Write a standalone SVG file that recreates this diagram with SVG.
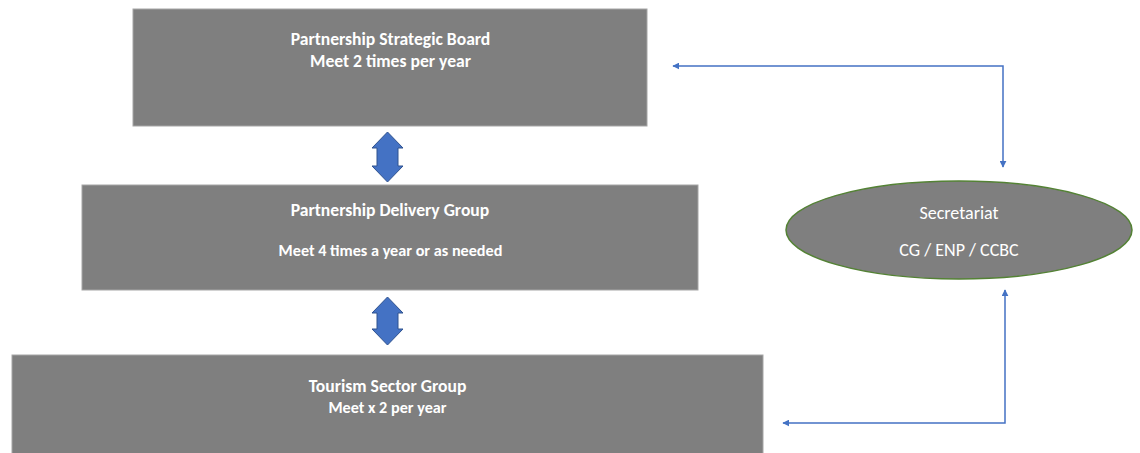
<svg xmlns="http://www.w3.org/2000/svg" width="1140" height="453" viewBox="0 0 1140 453">
  <style>
    .box { fill: #7f7f7f; stroke: #a6a6a6; stroke-width: 1; }
    .oval { fill: #7f7f7f; stroke: #548235; stroke-width: 1.5; }
    .t { font-family: Carlito, "Liberation Sans", Arial, sans-serif; fill: #ffffff; text-anchor: middle; }
    .b { font-weight: bold; font-size: 17.6px; }
    .s { font-size: 16.2px; }
    .n { font-size: 18px; }
    .link { fill: none; stroke: #4472c4; stroke-width: 1.5; }
    .dbl { fill: #4472c4; stroke: #2f528f; stroke-width: 1; }
  </style>
  <defs>
    <marker id="head" viewBox="0 0 10 10" refX="9" refY="5" markerWidth="7" markerHeight="7" orient="auto-start-reverse" markerUnits="userSpaceOnUse">
      <path d="M0,0 L10,5 L0,10 Z" fill="#4472c4"/>
    </marker>
  </defs>

  <g id="strategic-board">
    <rect class="box" x="133" y="9" width="514" height="117"/>
    <text class="t b" x="390.5" y="45">Partnership Strategic Board</text>
    <text class="t b" x="390.5" y="66.5">Meet 2 times per year</text>
  </g>

  <g id="delivery-group">
    <rect class="box" x="82" y="185" width="616" height="105"/>
    <text class="t b" x="390" y="215.5">Partnership Delivery Group</text>
    <text class="t b s" x="390.5" y="256">Meet 4 times a year or as needed</text>
  </g>

  <g id="tourism-group">
    <rect class="box" x="12" y="355" width="751" height="100"/>
    <text class="t b" x="387.5" y="392">Tourism Sector Group</text>
    <text class="t b s" x="387.5" y="413">Meet x 2 per year</text>
  </g>

  <g id="secretariat">
    <ellipse class="oval" cx="959" cy="230" rx="173" ry="49"/>
    <text class="t n" x="959" y="219">Secretariat</text>
    <text class="t n" x="959" y="256">CG / ENP / CCBC</text>
  </g>

  <g id="connectors">
    <!-- up/down block arrows between the tiers -->
    <path class="dbl" d="M387.5,132 L403,148 L398,148 L398,166 L403,166 L387.5,182 L372,166 L377,166 L377,148 L372,148 Z"/>
    <path class="dbl" d="M387.5,297 L403,313 L398,313 L398,329 L403,329 L387.5,345 L372,329 L377,329 L377,313 L372,313 Z"/>
    <!-- elbow links to the secretariat -->
    <path class="link" d="M673,66 L1003,66 L1003,167" marker-start="url(#head)" marker-end="url(#head)"/>
    <path class="link" d="M783,423 L1005,423 L1005,290" marker-start="url(#head)" marker-end="url(#head)"/>
  </g>
</svg>
